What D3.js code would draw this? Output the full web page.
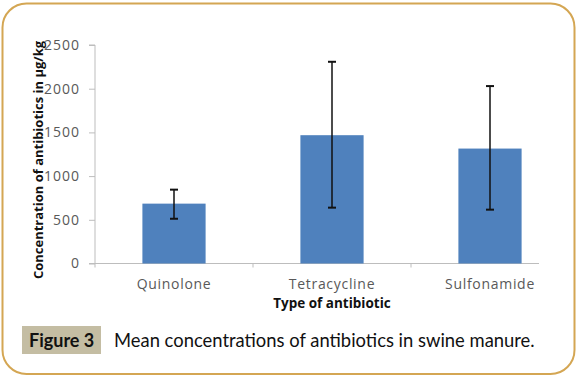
<!DOCTYPE html>
<html><head><meta charset="utf-8">
<script src="https://cdn.jsdelivr.net/npm/d3@7"></script>
<style>html,body{margin:0;padding:0;background:#fff;}</style>
</head><body>
<script>
const categories = ["Quinolone", "Tetracycline", "Sulfonamide"];
const means = [685, 1468, 1315];
const errLow = [512, 639, 616];
const errHigh = [845, 2308, 2030];
const yTicks = [0, 500, 1000, 1500, 2000, 2500];

const W = 580, H = 381;
const svg = d3.select("body").append("svg").attr("width", W).attr("height", H);

// frame
svg.append("rect").attr("x", 2.5).attr("y", 3.5).attr("width", 572).attr("height", 370.5)
  .attr("rx", 24).attr("ry", 24).attr("fill", "#fff").attr("stroke", "#d4a653").attr("stroke-width", 2);

const x = d3.scaleBand().domain(categories).range([95, 569]).paddingInner(0.6).paddingOuter(0.3);
const y = d3.scaleLinear().domain([0, 2500]).range([263.5, 45]);

const g = svg.append("g");
// y axis
const yAxis = d3.axisLeft(y).tickValues(yTicks).tickSize(6).tickPadding(9).tickFormat(d3.format("d"));
const ya = g.append("g").attr("transform", "translate(95,0)").call(yAxis);
ya.select(".domain").attr("stroke", "#bdbdbd").attr("d", `M-6,${y(2500)}H0V${y(0)+4}`);
ya.selectAll(".tick line").attr("stroke", "#bdbdbd");
ya.selectAll(".tick text").attr("fill", "#595959").style("font", "14px 'Open Sans'").style("letter-spacing", "1px");

// x axis
const xa = g.append("g").attr("transform", `translate(0,${y(0)})`);
xa.append("line").attr("x1", 89).attr("x2", 539).attr("y1", 0).attr("y2", 0).attr("stroke", "#bdbdbd");
const bounds = [x.step() * 1 + 95, x.step() * 2 + 95];
xa.selectAll(".xt").data(bounds).join("line").attr("x1", d => d).attr("x2", d => d)
  .attr("y1", 0).attr("y2", 4).attr("stroke", "#bdbdbd");
xa.selectAll(".xl").data(categories).join("text")
  .attr("x", d => x(d) + x.bandwidth() / 2).attr("y", 25.5).attr("text-anchor", "middle")
  .attr("fill", "#595959").style("font", "14px 'Open Sans'").style("letter-spacing", "0.7px").text(d => d);

// bars
g.selectAll(".bar").data(categories).join("rect")
  .attr("x", d => x(d)).attr("width", x.bandwidth())
  .attr("y", (d, i) => y(means[i])).attr("height", (d, i) => y(0) - y(means[i]))
  .attr("fill", "#4f81bd");

// error bars
const eb = g.selectAll(".eb").data(categories).join("g");
eb.append("line").attr("x1", d => x(d) + x.bandwidth() / 2).attr("x2", d => x(d) + x.bandwidth() / 2)
  .attr("y1", (d, i) => y(errHigh[i])).attr("y2", (d, i) => y(errLow[i])).attr("stroke", "#111").attr("stroke-width", 1.5);
[errHigh, errLow].forEach(arr => {
  eb.append("line").attr("x1", d => x(d) + x.bandwidth() / 2 - 4).attr("x2", d => x(d) + x.bandwidth() / 2 + 4)
    .attr("y1", (d, i) => y(arr[i])).attr("y2", (d, i) => y(arr[i])).attr("stroke", "#111").attr("stroke-width", 2);
});

// axis titles
svg.append("text").attr("x", 332).attr("y", 308).attr("text-anchor", "middle")
  .style("font", "bold 13.5px 'Open Sans'").attr("fill", "#111").text("Type of antibiotic");
svg.append("text").attr("transform", "translate(43,160) rotate(-90)").attr("text-anchor", "middle")
  .style("font", "bold 13px 'Open Sans'").attr("fill", "#111").text("Concentration of antibiotics in μg/kg");

// caption
svg.append("rect").attr("x", 22).attr("y", 326).attr("width", 79).attr("height", 28).attr("fill", "#c4bda3");
svg.append("text").attr("x", 29).attr("y", 347).style("font", "bold 18px Lato").attr("fill", "#111").text("Figure 3");
svg.append("text").attr("x", 114).attr("y", 347).style("font", "18.4px Lato").attr("fill", "#111")
  .text("Mean concentrations of antibiotics in swine manure.");
</script>
</body></html>
